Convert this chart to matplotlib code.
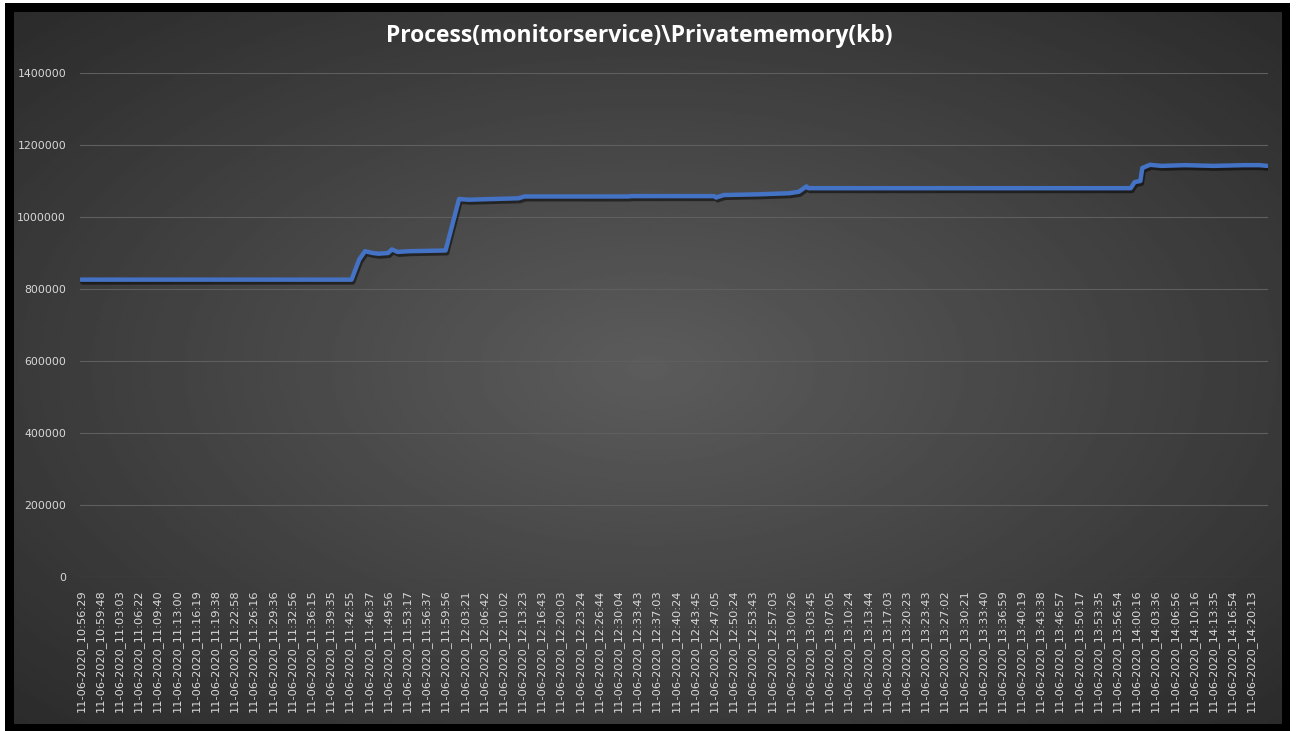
import numpy as np
import matplotlib
matplotlib.use("Agg")
import matplotlib.pyplot as plt
import matplotlib.patheffects as pe
from matplotlib.patches import Rectangle

# tick labels shown on the category axis (every 10th sample)
tick_labels = [
    "10:56:29", "10:59:48", "11:03:03", "11:06:22", "11:09:40", "11:13:00",
    "11:16:19", "11:19:38", "11:22:58", "11:26:16", "11:29:36", "11:32:56",
    "11:36:15", "11:39:35", "11:42:55", "11:46:37", "11:49:56", "11:53:17",
    "11:56:37", "11:59:56", "12:03:21", "12:06:42", "12:10:02", "12:13:23",
    "12:16:43", "12:20:03", "12:23:24", "12:26:44", "12:30:04", "12:33:43",
    "12:37:03", "12:40:24", "12:43:45", "12:47:05", "12:50:24", "12:53:43",
    "12:57:03", "13:00:26", "13:03:45", "13:07:05", "13:10:24", "13:13:44",
    "13:17:03", "13:20:23", "13:23:43", "13:27:02", "13:30:21", "13:33:40",
    "13:36:59", "13:40:19", "13:43:38", "13:46:57", "13:50:17", "13:53:35",
    "13:56:54", "14:00:16", "14:03:36", "14:06:56", "14:10:16", "14:13:35",
    "14:16:54", "14:20:13",
]
tick_labels = ["11-06-2020_" + t for t in tick_labels]
n_samples = 619

# sample index / private memory (kb) at the change points
sample_idx = [0, 141, 145, 148, 152, 155, 160, 162, 165, 171, 190, 197, 202,
              228, 231, 285, 287, 330, 331, 332, 335, 353, 369, 374, 378,
              379, 547, 549, 552, 553, 557, 563, 575, 590, 606, 614, 618]
private_kb = [826000, 826000, 882000, 905000, 900000, 898000, 900000, 910000,
              903000, 905000, 907000, 1050000, 1048000, 1052000, 1057000,
              1057000, 1058000, 1058000, 1054000, 1056000, 1061000, 1063000,
              1066000, 1070000, 1085000, 1080000, 1080000, 1097000, 1100000,
              1136000, 1145000, 1142000, 1144000, 1142000, 1144000, 1144000,
              1142000]

W, H = 1297, 731
fig = plt.figure(figsize=(W / 100, H / 100), dpi=100, facecolor="white")

# black frame + radial gradient background
fig.add_artist(Rectangle((5 / W, 0), 1285 / W, 728 / H, transform=fig.transFigure,
                         facecolor="black", edgecolor="none", zorder=0))
bg = fig.add_axes([14 / W, 7 / H, 1268 / W, 712 / H], zorder=0)
yy, xx = np.mgrid[-1:1:300j, -1:1:500j]
r = np.sqrt(xx ** 2 + yy ** 2) / np.sqrt(2)
grad = 0.36 - 0.19 * r
bg.imshow(grad, cmap="gray", vmin=0, vmax=1, aspect="auto",
          extent=[0, 1, 0, 1], interpolation="bilinear")
bg.axis("off")

ax = fig.add_axes([80 / W, 1 - 577 / H, 1188 / W, 504 / H], zorder=1)
ax.patch.set_alpha(0)
ax.plot(sample_idx, private_kb, color="#4472C4", linewidth=3.2,
        solid_joinstyle="round", solid_capstyle="round",
        path_effects=[pe.SimpleLineShadow(offset=(1, -2), shadow_color="black", alpha=0.5),
                      pe.Normal()])

ax.set_xlim(-0.5, n_samples - 0.5)
ax.set_ylim(0, 1400000)
ax.set_yticks(range(0, 1400001, 200000))
ax.set_yticklabels([str(v) for v in range(0, 1400001, 200000)])
ax.set_xticks(range(0, n_samples, 10))
ax.set_xticklabels(tick_labels, rotation=90)
ax.grid(axis="y", color="#5f5f5f", linewidth=0.8)
ax.set_axisbelow(True)
ax.tick_params(axis="both", length=0, colors="#d9d9d9", labelsize=7.8)
ax.tick_params(axis="y", pad=10)
ax.tick_params(axis="x", pad=9, labelsize=8.2)
for s in ax.spines.values():
    s.set_visible(False)

fig.text(639 / W, 1 - 36 / H, "Process(monitorservice)\\Privatememory(kb)",
         ha="center", va="center", color="white", fontsize=16.5,
         fontweight="bold", family="Open Sans")

fig.savefig("out.png", dpi=100, facecolor="white")
